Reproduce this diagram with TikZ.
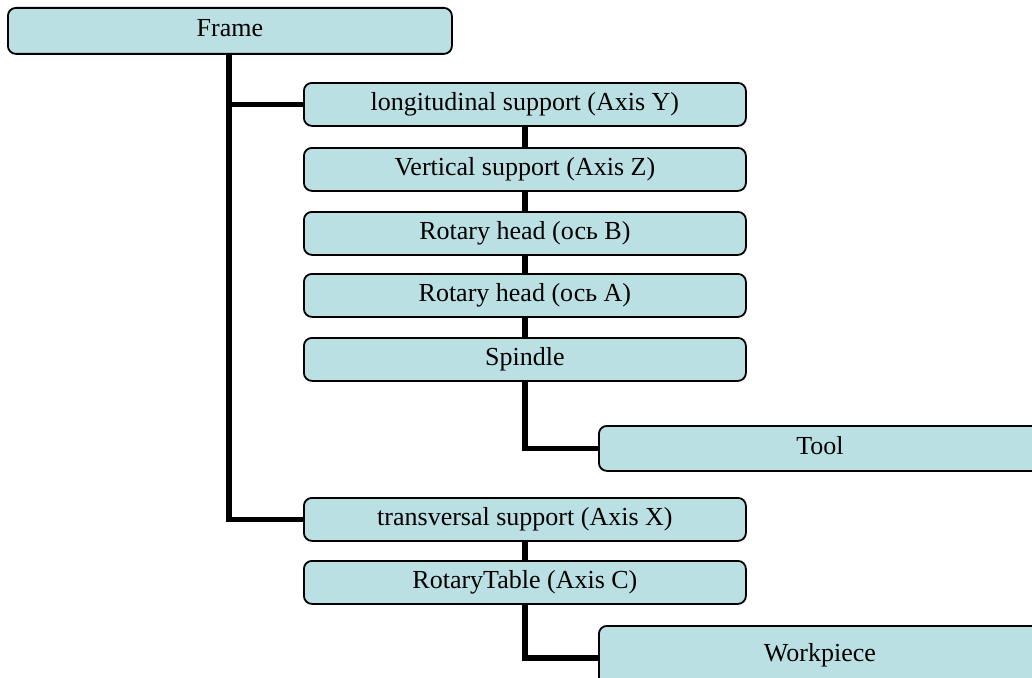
\documentclass[tikz,border=0pt]{standalone}
\usepackage{fontspec}
\setmainfont{Liberation Serif}
\definecolor{boxfill}{RGB}{186,224,227}
\begin{document}
\begin{tikzpicture}[x=1pt,y=-1pt,
  unitbox/.style={draw=black, line width=1.8pt, fill=boxfill, rounded corners=8pt,
    minimum width=442pt, minimum height=43pt, inner sep=0pt, anchor=north west,
    font=\fontsize{26}{30}\selectfont, text height=17pt, text depth=5pt},
  link/.style={line width=5.5pt, line join=miter}]
\useasboundingbox (0,0) rectangle (1032,677);
\clip (0,0) rectangle (1032,677);

% machine structure: frame, spindle branch, table branch
\node[unitbox, minimum width=444pt, minimum height=46pt] (frame) at (7,7) {Frame};
\node[unitbox] (long)  at (303,82)  {longitudinal support (Axis Y)};
\node[unitbox] (vert)  at (303,147) {Vertical support (Axis Z)};
\node[unitbox] (rotb)  at (303,211) {Rotary head (ось B)};
\node[unitbox] (rota)  at (303,273) {Rotary head (ось A)};
\node[unitbox] (spin)  at (303,337) {Spindle};
\node[unitbox, minimum height=45pt] (tool) at (598,425) {Tool};
\node[unitbox] (trans) at (303,497) {transversal support (Axis X)};
\node[unitbox] (table) at (303,560) {RotaryTable (Axis C)};
\node[unitbox, minimum height=60pt] (work) at (598,625) {Workpiece};

% trunk from the frame
\coordinate (trunk) at (229,0);
\draw[link] (trunk |- frame.south) -- (trunk |- trans.west) -- (trans.west);
\draw[link] (trunk |- long.west) -- (long.west);

% chains
\draw[link] (long.south) -- (vert.north);
\draw[link] (vert.south) -- (rotb.north);
\draw[link] (rotb.south) -- (rota.north);
\draw[link] (rota.south) -- (spin.north);
\draw[link] (spin.south) |- (tool.west);
\draw[link] (trans.south) -- (table.north);
\draw[link] (table.south) |- ([yshift=-2pt]work.west);
\end{tikzpicture}
\end{document}
